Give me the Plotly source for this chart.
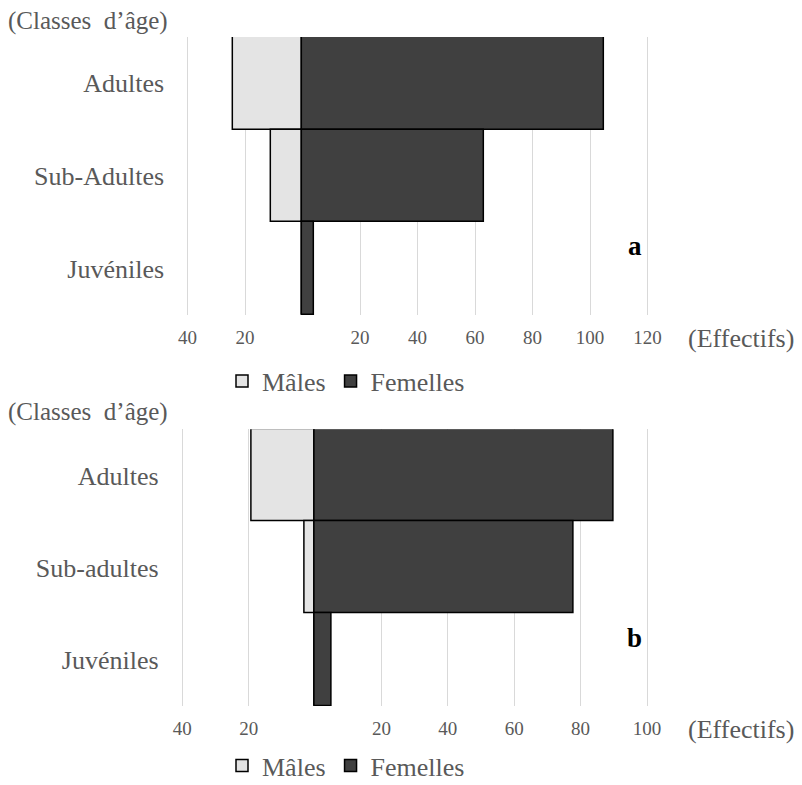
import plotly.graph_objects as go

# ---- data ----
categories_a = ["Adultes", "Sub-Adultes", "Juvéniles"]
males_a = [24, 11, 0]
females_a = [105, 63, 4]
ticks_a = [-40, -20, 20, 40, 60, 80, 100, 120]

categories_b = ["Adultes", "Sub-adultes", "Juvéniles"]
males_b = [19, 3, 0]
females_b = [90, 78, 5]
ticks_b = [-40, -20, 20, 40, 60, 80, 100]

W, H = 802, 785
FONT = "Liberation Serif, Times New Roman, serif"
GREY = "#595959"
MALE_C = "#E4E4E4"
FEM_C = "#404040"

def px_x(x):
    return x / W

def px_y(y):
    return 1 - y / H

fig = go.Figure()

def add_panel(cats, males, females, xa, ya, legend):
    fig.add_trace(go.Bar(
        y=cats, x=[-m for m in males], orientation="h", name="Mâles",
        marker=dict(color=MALE_C, line=dict(color="black", width=1.5)),
        xaxis=xa, yaxis=ya, legend=legend, hoverinfo="skip"))
    fig.add_trace(go.Bar(
        y=cats, x=females, orientation="h", name="Femelles",
        marker=dict(color=FEM_C, line=dict(color="black", width=1.5)),
        xaxis=xa, yaxis=ya, legend=legend, hoverinfo="skip"))

add_panel(categories_a, males_a, females_a, "x", "y", "legend")
add_panel(categories_b, males_b, females_b, "x2", "y2", "legend2")

def xaxis_cfg(rng, ticks, domain, anchor):
    return dict(
        range=rng, domain=domain, anchor=anchor, automargin=False,
        tickvals=ticks, ticktext=[str(abs(t)) for t in ticks],
        showgrid=True, gridcolor="#D9D9D9", gridwidth=1.3,
        zeroline=False, showline=False, ticks="",
        ticklabelstandoff=9,
        tickfont=dict(family=FONT, size=19, color=GREY),
        fixedrange=True)

def yaxis_cfg(cats, domain, anchor):
    return dict(
        domain=domain, anchor=anchor, type="category", automargin=False,
        categoryorder="array", categoryarray=cats, autorange="reversed",
        showgrid=False, zeroline=False, showline=False, ticks="",
        ticklabelstandoff=21,
        tickfont=dict(family=FONT, size=26, color=GREY),
        fixedrange=True)

fig.update_layout(
    width=W, height=H,
    margin=dict(l=0, r=0, t=0, b=0, autoexpand=False),
    paper_bgcolor="white", plot_bgcolor="white",
    barmode="relative", bargap=0,
    xaxis=xaxis_cfg([-40.5, 120.5], ticks_a, [px_x(186.06), px_x(648.94)], "y"),
    yaxis=yaxis_cfg(categories_a, [px_y(315), px_y(37)], "x"),
    xaxis2=xaxis_cfg([-40.5, 100.5], ticks_b, [px_x(180.64), px_x(648.66)], "y2"),
    yaxis2=yaxis_cfg(categories_b, [px_y(706), px_y(429.3)], "x2"),
    legend=dict(orientation="h", x=px_x(222), y=px_y(381), xanchor="left", yanchor="middle",
                font=dict(family=FONT, size=26, color=GREY), bgcolor="rgba(0,0,0,0)",
                itemclick=False, itemdoubleclick=False, tracegroupgap=0),
    legend2=dict(orientation="h", x=px_x(222), y=px_y(789), xanchor="left", yanchor="bottom",
                 font=dict(family=FONT, size=26, color=GREY), bgcolor="rgba(0,0,0,0)",
                 itemclick=False, itemdoubleclick=False, tracegroupgap=0),
)

def ann(text, x, y, xanchor="left", size=25, color=GREY, bold=False):
    fig.add_annotation(
        text=f"<b>{text}</b>" if bold else text,
        x=px_x(x), y=px_y(y), xref="paper", yref="paper",
        xanchor=xanchor, yanchor="middle", showarrow=False,
        font=dict(family=FONT, size=size, color=color))

ann("(Classes  d’âge)", 6, 21)
ann("(Classes  d’âge)", 6, 412)
ann("(Effectifs)", 686, 338, size=26)
ann("(Effectifs)", 686, 729, size=26)
ann("a", 635, 246, xanchor="center", size=27, color="black", bold=True)
ann("b", 634, 638, xanchor="center", size=27, color="black", bold=True)

fig.write_html(
    "out.html",
    config={"displayModeBar": False},
    post_script="document.body.style.margin='0';document.body.style.padding='0';document.body.style.overflow='hidden';",
)
